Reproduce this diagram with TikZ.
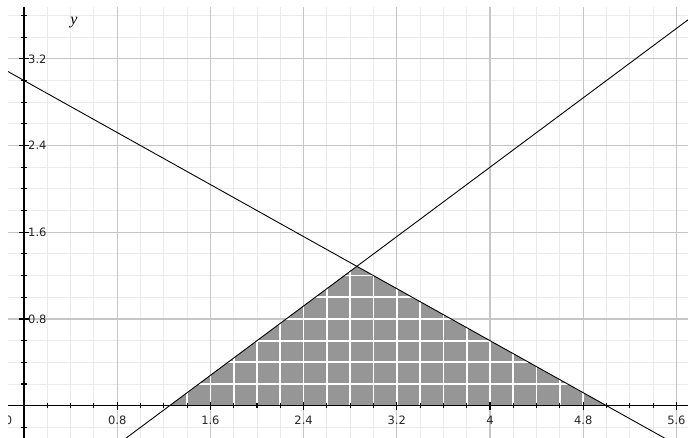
\documentclass[tikz,border=0pt]{standalone}
\usepackage{fontspec}
\setmainfont{Liberation Serif}
\newfontfamily\tickfont{DejaVu Sans}
\definecolor{minorgray}{HTML}{EBEBEB}
\definecolor{majorgray}{HTML}{C6C6C6}
\definecolor{regiongray}{HTML}{969696}
\begin{document}
\begin{tikzpicture}[x=1pt,y=1pt,
  minorgrid/.style={draw=minorgray, line width=0.9pt},
  majorgrid/.style={draw=majorgray, line width=1.1pt},
  whitegrid/.style={draw=white, line width=1.7pt},
  axisline/.style={draw=black, line width=1.3pt},
  tickmark/.style={draw=black, line width=1.1pt},
  graphline/.style={draw=black, line width=0.9pt},
  ticklabel/.style={font=\tickfont\fontsize{11.5}{13}\selectfont, text=black!85, inner sep=0pt},
  varlabel/.style={font=\fontsize{16}{18}\selectfont\itshape, inner sep=0pt}]
\useasboundingbox (0,0) rectangle (688,438);
\fill[white] (0,0) rectangle (688,438);
\begin{scope}[shift={(24,32.3)}, x=116.5pt, y=108.4pt]
  \clip (-0.137,-0.298) rectangle (5.70,3.669);
  % minor grid
  \foreach \i in {-1,...,29} \draw[minorgrid] (\i*0.2,-0.4) -- (\i*0.2,3.8);
  \foreach \j in {-2,...,19} \draw[minorgrid] (-0.2,\j*0.2) -- (5.9,\j*0.2);
  % major grid
  \foreach \i in {1,...,7} \draw[majorgrid] (\i*0.8,-0.4) -- (\i*0.8,3.8);
  \foreach \j in {1,...,4} \draw[majorgrid] (-0.2,\j*0.8) -- (5.9,\j*0.8);
  % feasible region
  \coordinate (A) at (1.25,0);
  \coordinate (B) at (20/7,9/7);
  \coordinate (C) at (5,0);
  \fill[regiongray] (A) -- (B) -- (C) -- cycle;
  \begin{scope}
    \clip (A) -- (B) -- (C) -- cycle;
    \foreach \i in {6,...,25} \draw[whitegrid] (\i*0.2,-0.1) -- (\i*0.2,1.4);
    \foreach \j in {1,...,6} \draw[whitegrid] (1.2,\j*0.2) -- (5.1,\j*0.2);
  \end{scope}
  % lines
  \coordinate (L1a) at (-0.3,3.18);
  \coordinate (L1b) at (5.8,-0.48);
  \coordinate (L2a) at (0.5,-0.6);
  \coordinate (L2b) at (6.0,3.8);
  \draw[graphline] (L1a) -- (L1b);
  \draw[graphline] (L2a) -- (L2b);
  % axes
  \coordinate (xl) at (-0.3,0);
  \coordinate (xr) at (6,0);
  \coordinate (yb) at (0,-0.4);
  \coordinate (yt) at (0,3.8);
  \draw[axisline] (xl) -- (xr);
  \draw[axisline] (yb) -- (yt);
  % ticks
  \foreach \i in {1,...,29} \draw[tickmark] ([yshift=-2.5pt]\i*0.2,0) -- ([yshift=2.5pt]\i*0.2,0);
  \foreach \i in {1,...,7} \draw[tickmark] ([yshift=-4pt]\i*0.8,0) -- ([yshift=4pt]\i*0.8,0);
  \foreach \j in {-1,...,18} \draw[tickmark] ([xshift=-2.7pt]0,\j*0.2) -- ([xshift=2.7pt]0,\j*0.2);
  \foreach \j in {1,...,4} \draw[tickmark] ([xshift=-5pt]0,\j*0.8) -- ([xshift=5pt]0,\j*0.8);
  % tick labels
  \node[ticklabel, anchor=base east] (x0) at ([xshift=-11.5pt, yshift=-19.3pt]0,0) {0};
  \foreach \v/\t in {0.8/0.8, 1.6/1.6, 2.4/2.4, 3.2/3.2, 4/4, 4.8/4.8, 5.6/5.6}
    \node[ticklabel, anchor=base] (x\t) at ([yshift=-19.3pt]\v,0) {\t};
  \foreach \v in {0.8, 1.6, 2.4, 3.2}
    \node[ticklabel, anchor=base west] (y\v) at ([xshift=4pt, yshift=-4.2pt]0,\v) {\v};
\end{scope}
\node[varlabel] (ylabel) at (74,415) {y};
\end{tikzpicture}
\end{document}
